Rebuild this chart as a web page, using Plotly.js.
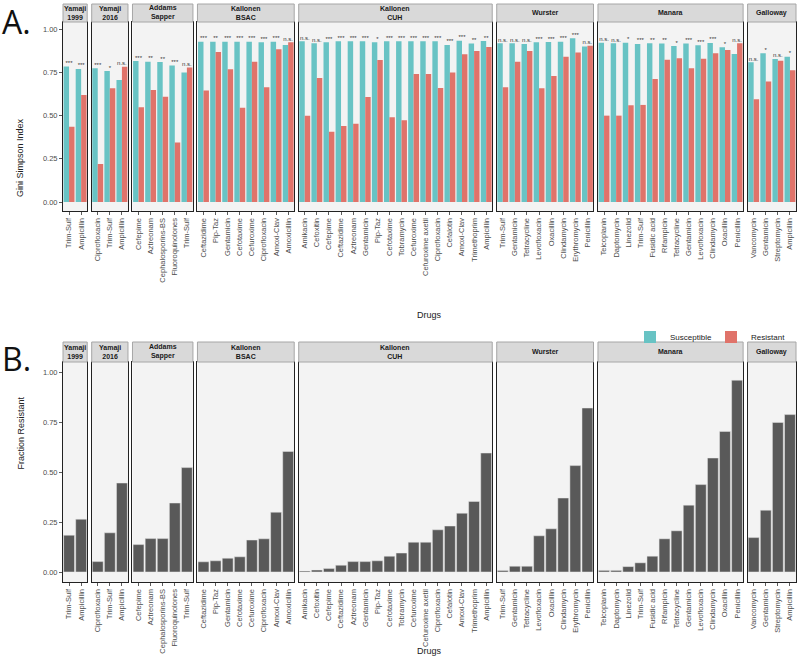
<!DOCTYPE html>
<html><head><meta charset="utf-8">
<script src="https://cdn.plot.ly/plotly-3.0.1.min.js"></script>
<style>body{margin:0;background:#fff}#chart{width:800px;height:665px}</style>
</head><body><div id="chart"></div>
<script>
// ---------- DATA ----------
const studyLabels = ["Yamaji<br>1999","Yamaji<br>2016","Addams<br>Sapper","Kallonen<br>BSAC","Kallonen<br>CUH","Wurster","Manara","Galloway"];

const drugs_Yamaji1999 = ["Trim-Sulf","Ampicillin"];
const giniS_Yamaji1999 = [0.785, 0.770];
const giniR_Yamaji1999 = [0.436, 0.620];
const signif_Yamaji1999 = ["***","***"];
const fracR_Yamaji1999 = [0.184, 0.264];

const drugs_Yamaji2016 = ["Ciprofloxacin","Trim-Sulf","Ampicillin"];
const giniS_Yamaji2016 = [0.774, 0.758, 0.706];
const giniR_Yamaji2016 = [0.220, 0.658, 0.783];
const signif_Yamaji2016 = ["***","*","n.s."];
const fracR_Yamaji2016 = [0.052, 0.196, 0.445];

const drugs_AddamsSapper = ["Cefepime","Aztreonam","Cephalosporins-BS","Fluoroquinolones","Trim-Sulf"];
const giniS_AddamsSapper = [0.816, 0.812, 0.810, 0.790, 0.749];
const giniR_AddamsSapper = [0.548, 0.648, 0.610, 0.345, 0.778];
const signif_AddamsSapper = ["***","**","**","***","n.s."];
const fracR_AddamsSapper = [0.137, 0.167, 0.167, 0.345, 0.522];

const drugs_KallonenBSAC = ["Ceftazidime","Pip-Taz","Gentamicin","Cefotaxime","Cefuroxime","Ciprofloxacin","Amoxi-Clav","Amoxicillin"];
const giniS_KallonenBSAC = [0.928, 0.928, 0.928, 0.928, 0.928, 0.925, 0.928, 0.909];
const giniR_KallonenBSAC = [0.645, 0.869, 0.768, 0.546, 0.812, 0.664, 0.884, 0.925];
const signif_KallonenBSAC = ["***","**","***","***","***","***","***","n.s."];
const fracR_KallonenBSAC = [0.051, 0.056, 0.069, 0.076, 0.160, 0.166, 0.299, 0.603];

const drugs_KallonenCUH = ["Amikacin","Cefoxitin","Cefepime","Ceftazidime","Aztreonam","Gentamicin","Pip-Taz","Cefotaxime","Tobramycin","Cefuroxime","Cefuroxime axetil","Ciprofloxacin","Cefalotin","Amoxi-Clav","Trimethoprim","Ampicillin"];
const giniS_KallonenCUH = [0.930, 0.919, 0.925, 0.930, 0.930, 0.930, 0.925, 0.930, 0.930, 0.930, 0.930, 0.930, 0.909, 0.934, 0.917, 0.932];
const giniR_KallonenCUH = [0.500, 0.718, 0.407, 0.440, 0.453, 0.608, 0.822, 0.490, 0.473, 0.741, 0.741, 0.660, 0.749, 0.855, 0.874, 0.897];
const signif_KallonenCUH = ["n.s.","n.s.","***","***","***","***","*","***","***","***","***","***","***","***","**","**"];
const fracR_KallonenCUH = [0.005, 0.010, 0.017, 0.034, 0.052, 0.052, 0.056, 0.079, 0.095, 0.149, 0.149, 0.211, 0.230, 0.294, 0.353, 0.595];

const drugs_Wurster = ["Trim-Sulf","Gentamicin","Tetracycline","Levofloxacin","Oxacillin","Clindamycin","Erythromycin","Penicillin"];
const giniS_Wurster = [0.919, 0.919, 0.915, 0.925, 0.926, 0.928, 0.948, 0.900];
const giniR_Wurster = [0.664, 0.812, 0.874, 0.658, 0.730, 0.841, 0.865, 0.905];
const signif_Wurster = ["n.s.","n.s.","n.s.","***","***","***","***","n.s."];
const fracR_Wurster = [0.008, 0.029, 0.029, 0.181, 0.216, 0.370, 0.532, 0.820];

const drugs_Manara = ["Teicoplanin","Daptomycin","Linezolid","Trim-Sulf","Fusidic acid","Rifampicin","Tetracycline","Gentamicin","Levofloxacin","Clindamycin","Oxacillin","Penicillin"];
const giniS_Manara = [0.922, 0.919, 0.922, 0.915, 0.919, 0.917, 0.903, 0.917, 0.907, 0.921, 0.896, 0.857];
const giniR_Manara = [0.500, 0.500, 0.560, 0.562, 0.712, 0.824, 0.832, 0.774, 0.830, 0.861, 0.880, 0.919];
const signif_Manara = ["n.s.","n.s.","*","***","**","**","*","***","***","***","*","n.s."];
const fracR_Manara = [0.008, 0.008, 0.027, 0.046, 0.079, 0.166, 0.206, 0.334, 0.437, 0.570, 0.703, 0.959];

const drugs_Galloway = ["Vancomycin","Gentamicin","Streptomycin","Ampicillin"];
const giniS_Galloway = [0.809, 0.861, 0.828, 0.841];
const giniR_Galloway = [0.595, 0.697, 0.818, 0.763];
const signif_Galloway = ["n.s.","*","n.s.","*"];
const fracR_Galloway = [0.172, 0.309, 0.748, 0.787];

const yTickVals = [0, 0.25, 0.5, 0.75, 1];
const yTickText = ["0.00","0.25","0.50","0.75","1.00"];

const panels = [
  {drugs: drugs_Yamaji1999, s: giniS_Yamaji1999, r: giniR_Yamaji1999, sig: signif_Yamaji1999, f: fracR_Yamaji1999},
  {drugs: drugs_Yamaji2016, s: giniS_Yamaji2016, r: giniR_Yamaji2016, sig: signif_Yamaji2016, f: fracR_Yamaji2016},
  {drugs: drugs_AddamsSapper, s: giniS_AddamsSapper, r: giniR_AddamsSapper, sig: signif_AddamsSapper, f: fracR_AddamsSapper},
  {drugs: drugs_KallonenBSAC, s: giniS_KallonenBSAC, r: giniR_KallonenBSAC, sig: signif_KallonenBSAC, f: fracR_KallonenBSAC},
  {drugs: drugs_KallonenCUH, s: giniS_KallonenCUH, r: giniR_KallonenCUH, sig: signif_KallonenCUH, f: fracR_KallonenCUH},
  {drugs: drugs_Wurster, s: giniS_Wurster, r: giniR_Wurster, sig: signif_Wurster, f: fracR_Wurster},
  {drugs: drugs_Manara, s: giniS_Manara, r: giniR_Manara, sig: signif_Manara, f: fracR_Manara},
  {drugs: drugs_Galloway, s: giniS_Galloway, r: giniR_Galloway, sig: signif_Galloway, f: fracR_Galloway}
];

// ---------- LAYOUT ----------
const W = 800, H = 665;
const FONT = "Liberation Sans, Arial, Helvetica, sans-serif";
const colS = "#68C3C4", colR = "#E0736A", colB = "#595959";
const left = 63, right = 796, gap = 4.5;
const total = panels.reduce((a, p) => a + p.drugs.length, 0);
const unit = (right - left - gap * (panels.length - 1)) / total;

const rowA = {top: 22, bottom: 211, stripTop: 4, range: [-0.052, 1.042]};
const rowB = {top: 362, bottom: 582, stripTop: 342, range: [-0.05, 1.05]};

const px = x => x / W, py = y => 1 - y / H;

const data = [];
const layout = {
  width: W, height: H,
  margin: {l: 0, r: 0, t: 0, b: 0, autoexpand: false},
  paper_bgcolor: "#ffffff",
  plot_bgcolor: "#F3F3F3",
  barmode: "group", bargap: 0.1, bargroupgap: 0,
  font: {family: FONT, color: "#333"},
  showlegend: true,
  legend: {orientation: "h", x: px(630), y: py(337), xanchor: "left", yanchor: "middle",
           font: {size: 8, color: "#222"}, bgcolor: "rgba(0,0,0,0)", itemwidth: 30,
           entrywidth: 36, entrywidthmode: "pixels", traceorder: "normal", tracegroupgap: 0},
  shapes: [], annotations: []
};

let x0 = left;
panels.forEach((p, i) => {
  const n = p.drugs.length;
  const x1 = x0 + n * unit;
  const idx = p.drugs.map((_, k) => k);
  [rowA, rowB].forEach((row, ri) => {
    const a = i + 1 + ri * panels.length;
    const xa = "x" + (a === 1 ? "" : a), ya = "y" + (a === 1 ? "" : a);
    layout["xaxis" + (a === 1 ? "" : a)] = {
      domain: [px(x0), px(x1)], anchor: ya, range: [-0.5, n - 0.5],
      tickvals: idx, ticktext: p.drugs, tickangle: -90,
      ticks: "outside", ticklen: 3, tickcolor: "#333", tickwidth: 0.8,
      tickfont: {size: 7.5, color: "#4D4D4D", family: FONT},
      showgrid: false, zeroline: false, showline: true, linecolor: "#222", linewidth: 1, mirror: true,
      fixedrange: true, automargin: false
    };
    layout["yaxis" + (a === 1 ? "" : a)] = {
      domain: [py(row.bottom), py(row.top)], anchor: xa, range: row.range,
      tickvals: yTickVals, ticktext: yTickText,
      showticklabels: i === 0, ticks: i === 0 ? "outside" : "", ticklen: 3, tickcolor: "#333", tickwidth: 0.8,
      tickfont: {size: 7.5, color: "#4D4D4D", family: FONT},
      showgrid: false, zeroline: false, showline: true, linecolor: "#222", linewidth: 1, mirror: true,
      fixedrange: true, automargin: false
    };
    // strip
    layout.shapes.push({type: "rect", xref: "paper", yref: "paper",
      x0: px(x0), x1: px(x1), y0: py(row.top), y1: py(row.stripTop),
      fillcolor: "#D9D9D9", line: {color: "#A6A6A6", width: 1}});
    layout.annotations.push({xref: "paper", yref: "paper", x: px((x0 + x1) / 2), y: py((row.top + row.stripTop) / 2),
      text: "<b>" + studyLabels[i] + "</b>", showarrow: false, font: {size: 7, color: "#1A1A1A", family: FONT},
      xanchor: "center", yanchor: "middle"});
    if (ri === 0) {
      data.push({type: "bar", x: idx, y: p.s, name: "Susceptible", marker: {color: colS},
        xaxis: xa, yaxis: ya, showlegend: i === 0, legendgroup: "S", hoverinfo: "skip"});
      data.push({type: "bar", x: idx, y: p.r, name: "Resistant", marker: {color: colR},
        xaxis: xa, yaxis: ya, showlegend: i === 0, legendgroup: "R", hoverinfo: "skip"});
      data.push({type: "scatter", mode: "text", x: idx, y: p.s.map((v, k) => Math.max(v, p.r[k])),
        text: p.sig, textposition: "top center", textfont: {size: 6, color: "#333", family: FONT},
        xaxis: xa, yaxis: ya, showlegend: false, cliponaxis: false, hoverinfo: "skip"});
    } else {
      data.push({type: "bar", x: idx, y: p.f, name: "Fraction", marker: {color: colB, line: {color: "#E8E8E8", width: 0.5}},
        xaxis: xa, yaxis: ya, showlegend: false, hoverinfo: "skip"});
    }
  });
  x0 = x1 + gap;
});

// axis titles & panel tags
layout.annotations.push(
  {xref: "paper", yref: "paper", x: px(13), y: py((rowA.top + rowA.bottom) / 2), text: "Gini Simpson Index",
   textangle: -90, showarrow: false, font: {size: 9, color: "#222"}},
  {xref: "paper", yref: "paper", x: px(13), y: py((rowB.top + rowB.bottom) / 2), text: "Fraction Resistant",
   textangle: -90, showarrow: false, font: {size: 9, color: "#222"}},
  {xref: "paper", yref: "paper", x: px((left + right) / 2), y: py(315), text: "Drugs",
   showarrow: false, font: {size: 9, color: "#222"}},
  {xref: "paper", yref: "paper", x: px((left + right) / 2), y: py(658), text: "Drugs",
   showarrow: false, font: {size: 9, color: "#222"}},
  {xref: "paper", yref: "paper", x: px(0), y: py(22), text: "A.", xanchor: "left", yanchor: "middle",
   showarrow: false, font: {size: 32, color: "#111", family: "Open Sans, Liberation Sans, sans-serif"}},
  {xref: "paper", yref: "paper", x: px(0), y: py(358), text: "B.", xanchor: "left", yanchor: "middle",
   showarrow: false, font: {size: 32, color: "#111", family: "Open Sans, Liberation Sans, sans-serif"}}
);

Plotly.newPlot("chart", data, layout, {staticPlot: true, displayModeBar: false});
</script>
</body></html>
